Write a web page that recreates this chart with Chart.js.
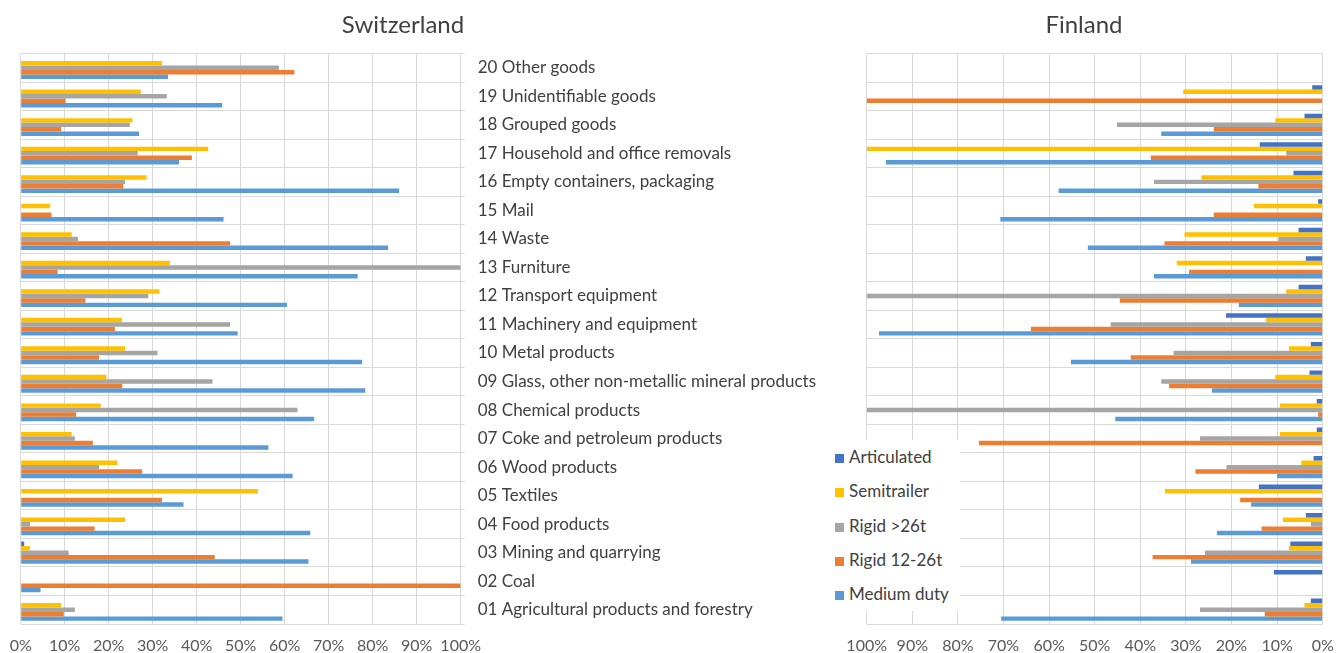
<!DOCTYPE html>
<html>
<head>
<meta charset="utf-8">
<script src="https://cdn.jsdelivr.net/npm/chart.js@4.4.1/dist/chart.umd.min.js"></script>
<style>
  html, body { margin: 0; padding: 0; background: #ffffff; }
  body { width: 1344px; height: 653px; position: relative; overflow: hidden; font-family: Lato, "Open Sans", sans-serif; }
  #chSwiss { position: absolute; left: 0; top: 0; }
  #chFin { position: absolute; left: 830px; top: 0; }
  .title { position: absolute; top: 8.5px; height: 29px; line-height: 29px; font-size: 24px; color: #404040; text-align: center; white-space: nowrap; }
  #legend { position: absolute; left: 830px; top: 440px; width: 130px; height: 171px; background: #ffffff; }
  .item { position: absolute; left: 5px; height: 20px; line-height: 20px; font-size: 17px; color: #404040; white-space: nowrap; }
  .item span.sw { display: inline-block; width: 9px; height: 9px; margin-right: 5px; vertical-align: 0px; }
</style>
</head>
<body>
<canvas id="chSwiss" width="830" height="653"></canvas>
<canvas id="chFin" width="514" height="653"></canvas>
<div class="title" style="left:303px; width:200px;">Switzerland</div>
<div class="title" style="left:984px; width:200px;">Finland</div>
<div id="legend"></div>
<script>
// Categories, top to bottom
const categories = [
  "20 Other goods",
  "19 Unidentifiable goods",
  "18 Grouped goods",
  "17 Household and office removals",
  "16 Empty containers, packaging",
  "15 Mail",
  "14 Waste",
  "13 Furniture",
  "12 Transport equipment",
  "11 Machinery and equipment",
  "10 Metal products",
  "09 Glass, other non-metallic mineral products",
  "08 Chemical products",
  "07 Coke and petroleum products",
  "06 Wood products",
  "05 Textiles",
  "04 Food products",
  "03 Mining and quarrying",
  "02 Coal",
  "01 Agricultural products and forestry"
];

const seriesNames = ["Articulated", "Semitrailer", "Rigid >26t", "Rigid 12-26t", "Medium duty"];
const seriesColors = ["#4472C4", "#FFC000", "#A5A5A5", "#ED7D31", "#5B9BD5"];

const pctTicks = ["0%", "10%", "20%", "30%", "40%", "50%", "60%", "70%", "80%", "90%", "100%"];

// Switzerland (percent)
const chArticulated = [0, 0, 0, 0, 0, 0, 0, 0, 0, 0, 0, 0, 0, 0, 0, 0, 0, 0.8, 0, 0];
const chSemitrailer = [32.1, 27.3, 25.4, 42.6, 28.6, 6.7, 11.6, 33.9, 31.5, 23.0, 23.7, 19.5, 18.2, 11.6, 22.0, 53.9, 23.7, 2.1, 0, 9.2];
const chRigidOver26 = [58.7, 33.2, 24.8, 26.6, 23.7, 0, 13.0, 100, 29.0, 47.6, 31.1, 43.6, 62.9, 12.3, 17.8, 0, 2.1, 10.9, 0, 12.3];
const chRigid12to26 = [62.2, 10.2, 9.2, 38.9, 23.3, 7.0, 47.6, 8.4, 14.7, 21.4, 17.8, 23.1, 12.6, 16.4, 27.6, 32.1, 16.8, 44.1, 100, 9.8];
const chMediumDuty  = [33.5, 45.8, 26.9, 36.0, 86.0, 46.1, 83.5, 76.6, 60.5, 49.3, 77.6, 78.3, 66.7, 56.3, 61.8, 37.0, 65.8, 65.4, 4.5, 59.5];

// Finland (percent)
const fiArticulated = [0, 2.3, 4.0, 13.8, 6.4, 1.0, 5.3, 3.7, 5.3, 21.2, 2.6, 2.9, 1.3, 1.3, 2.0, 14.0, 3.7, 7.1, 10.7, 2.6];
const fiSemitrailer = [0, 30.6, 10.4, 100, 26.6, 15.1, 30.3, 32.0, 8.0, 12.4, 7.4, 10.4, 9.4, 9.4, 4.7, 34.6, 8.7, 7.4, 0, 4.0];
const fiRigidOver26 = [0, 0, 45.1, 8.0, 37.0, 0, 9.7, 0, 100, 46.5, 32.7, 35.4, 100, 26.9, 21.1, 0, 2.6, 25.8, 0, 26.9];
const fiRigid12to26 = [0, 100, 23.9, 37.7, 14.1, 23.9, 34.7, 29.3, 44.5, 64.0, 42.1, 33.7, 1.0, 75.4, 27.9, 18.1, 13.4, 37.3, 0, 12.7];
const fiMediumDuty  = [0, 0, 35.4, 95.8, 57.9, 70.7, 51.5, 37.0, 18.4, 97.3, 55.2, 24.3, 45.5, 0, 10.0, 15.7, 23.2, 28.9, 0, 70.5];

const FONT = "Lato, 'Open Sans', sans-serif";
const GRID = "#D9D9D9";

function makeDatasets(arrs) {
  return arrs.map((d, i) => ({
    label: seriesNames[i],
    data: d,
    backgroundColor: seriesColors[i],
    borderWidth: 0,
    categoryPercentage: 0.78,
    barPercentage: 1.0
  }));
}

function xScale(reverse) {
  return {
    min: 0, max: 100, reverse: reverse,
    ticks: {
      stepSize: 10,
      padding: 12,
      maxRotation: 0,
      minRotation: 0,
      autoSkip: false,
      color: "#595959",
      font: { family: FONT, size: 16 },
      callback: (v) => pctTicks[Math.round(v / 10)]
    },
    grid: { color: GRID, lineWidth: 1, drawTicks: false },
    border: { display: false },
    afterFit: (s) => { s.height = 29; s.paddingLeft = 0; s.paddingRight = 0; }
  };
}

Chart.defaults.font.family = FONT;

new Chart(document.getElementById("chSwiss"), {
  type: "bar",
  data: {
    labels: categories,
    datasets: makeDatasets([chArticulated, chSemitrailer, chRigidOver26, chRigid12to26, chMediumDuty])
  },
  options: {
    indexAxis: "y",
    responsive: false,
    devicePixelRatio: 1,
    animation: false,
    layout: { padding: { left: 20.7, right: 0, top: 53.5, bottom: 0 } },
    plugins: {
      legend: { display: false },
      tooltip: { enabled: false },
      title: { display: false }
    },
    scales: {
      x: xScale(false),
      y: {
        position: "right",
        ticks: { padding: 13, color: "#404040", font: { family: FONT, size: 17 } },
        grid: { color: GRID, lineWidth: 1, tickLength: 4 },
        border: { color: GRID },
        afterFit: (s) => { s.width = 369.3; }
      }
    }
  }
});

new Chart(document.getElementById("chFin"), {
  type: "bar",
  data: {
    labels: categories,
    datasets: makeDatasets([fiArticulated, fiSemitrailer, fiRigidOver26, fiRigid12to26, fiMediumDuty])
  },
  options: {
    indexAxis: "y",
    responsive: false,
    devicePixelRatio: 1,
    animation: false,
    layout: { padding: { left: 36.7, right: 21.3, top: 53.5, bottom: 0 } },
    plugins: {
      legend: { display: false },
      tooltip: { enabled: false },
      title: { display: false }
    },
    scales: {
      x: xScale(true),
      y: {
        position: "left",
        ticks: { display: false },
        grid: { color: GRID, lineWidth: 1, drawTicks: false },
        border: { display: false },
        afterFit: (s) => { s.width = 0; }
      }
    }
  }
});

// Legend (HTML text)
const legendEl = document.getElementById("legend");
seriesNames.forEach((name, i) => {
  const div = document.createElement("div");
  div.className = "item";
  div.style.top = (6.7 + i * 34.4) + "px";
  const sw = document.createElement("span");
  sw.className = "sw";
  sw.style.background = seriesColors[i];
  div.appendChild(sw);
  div.appendChild(document.createTextNode(name));
  legendEl.appendChild(div);
});
</script>
</body>
</html>
